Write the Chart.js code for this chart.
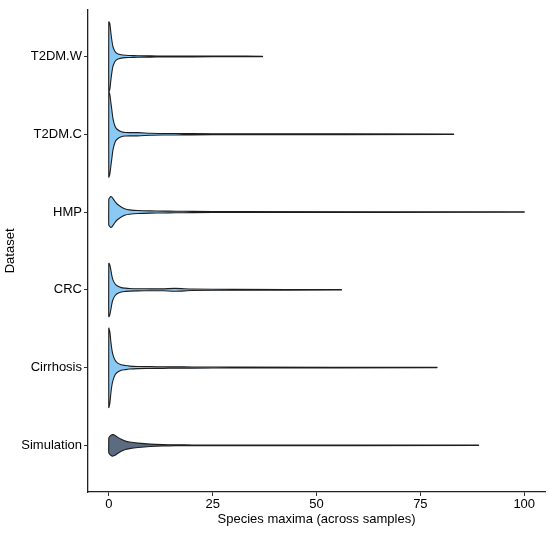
<!DOCTYPE html>
<html>
<head>
<meta charset="utf-8">
<script src="https://cdn.jsdelivr.net/npm/chart.js@4"></script>
<style>
  html, body { margin: 0; padding: 0; background: #fff; }
</style>
</head>
<body>
<canvas id="violins" width="550" height="534"></canvas>
<script>
// categories from bottom (1) to top (6)
const categories = ["Simulation", "Cirrhosis", "CRC", "HMP", "T2DM.C", "T2DM.W"];
// tail end of each violin (largest species maximum)
const maxima = [89, 79, 56, 100, 83, 37];
// x positions where the violin half-widths were read
const gridX = [0, 0.25, 0.5, 0.75, 1, 1.5, 2, 3, 4, 5, 7, 10, 13, 16, 20, 30];
// half-widths (category units) at gridX
const simulation = [0.096, 0.115, 0.128, 0.136, 0.138, 0.128, 0.109, 0.077, 0.054, 0.042, 0.028, 0.015, 0.009, 0.006, 0.005, 0.004];
const cirrhosis  = [0.513, 0.462, 0.333, 0.231, 0.167, 0.096, 0.064, 0.035, 0.026, 0.019, 0.014, 0.012, 0.010, 0.009, 0.008, 0.005];
const crc        = [0.346, 0.321, 0.256, 0.179, 0.128, 0.077, 0.051, 0.028, 0.021, 0.017, 0.014, 0.012, 0.012, 0.018, 0.010, 0.005];
const hmp        = [0.167, 0.186, 0.199, 0.192, 0.173, 0.135, 0.103, 0.064, 0.038, 0.028, 0.019, 0.014, 0.012, 0.010, 0.008, 0.005];
const t2dmC      = [0.551, 0.513, 0.410, 0.308, 0.205, 0.103, 0.064, 0.032, 0.023, 0.021, 0.021, 0.013, 0.010, 0.009, 0.008, 0.005];
const t2dmW      = [0.449, 0.423, 0.308, 0.205, 0.128, 0.064, 0.038, 0.021, 0.015, 0.013, 0.010, 0.008, 0.006, 0.006, 0.005, 0.004];
const xTicks = [0, 25, 50, 75, 100];

const widths = [simulation, cirrhosis, crc, hmp, t2dmC, t2dmW];
const fills = ["#5b6b80", "#8ac8f5", "#8ac8f5", "#8ac8f5", "#8ac8f5", "#8ac8f5"];
const tailHalf = 0.003;

// closed outline: along the top, round the tail tip, back along the bottom
function violinPoints(i) {
    const c = i + 1, w = widths[i];
    const pts = [];
    for (let k = 0; k < gridX.length; k++) pts.push({x: gridX[k], y: c + w[k]});
    pts.push({x: maxima[i], y: c + tailHalf});
    pts.push({x: maxima[i], y: c - tailHalf});
    for (let k = gridX.length - 1; k >= 0; k--) pts.push({x: gridX[k], y: c - w[k]});
    pts.push({x: gridX[0], y: c + w[0]});
    return pts;
}

const font = {family: "'Liberation Sans', Arial, Helvetica, sans-serif", size: 13};

const datasets = categories.map((name, i) => ({
    label: name,
    data: violinPoints(i),
    showLine: true,
    fill: "shape",
    backgroundColor: fills[i],
    borderColor: "#1e1e1e",
    borderWidth: 1.1,
    pointRadius: 0,
    tension: 0.25
}));

new Chart(document.getElementById("violins"), {
    type: "scatter",
    data: {datasets: datasets},
    options: {
        responsive: false,
        animation: false,
        layout: {padding: {top: 8, right: 5, left: 0, bottom: 0}},
        plugins: {legend: {display: false}, tooltip: {enabled: false}},
        scales: {
            x: {
                type: "linear",
                min: -5,
                max: 105,
                afterBuildTicks: (s) => { s.ticks = xTicks.map(v => ({value: v})); },
                afterFit: (s) => { s.height = 42; },
                ticks: {color: "#000", font: font, padding: 1, maxRotation: 0},
                grid: {drawOnChartArea: false, drawTicks: true, tickLength: 4, tickColor: "#333", tickWidth: 1},
                border: {display: true, color: "#222", width: 1.3},
                title: {display: true, text: "Species maxima (across samples)", color: "#000", font: font, padding: {top: 0, bottom: 7}}
            },
            y: {
                type: "linear",
                min: 0.4,
                max: 6.6,
                afterBuildTicks: (s) => { s.ticks = categories.map((_, i) => ({value: i + 1})); },
                afterFit: (s) => { s.width = 88; },
                ticks: {color: "#000", font: font, padding: 2, callback: (v) => categories[v - 1]},
                grid: {drawOnChartArea: false, drawTicks: true, tickLength: 4, tickColor: "#333", tickWidth: 1},
                border: {display: true, color: "#222", width: 1.3},
                title: {display: true, text: "Dataset", color: "#000", font: font, padding: {top: 3, bottom: 0}}
            }
        }
    }
});
</script>
</body>
</html>
